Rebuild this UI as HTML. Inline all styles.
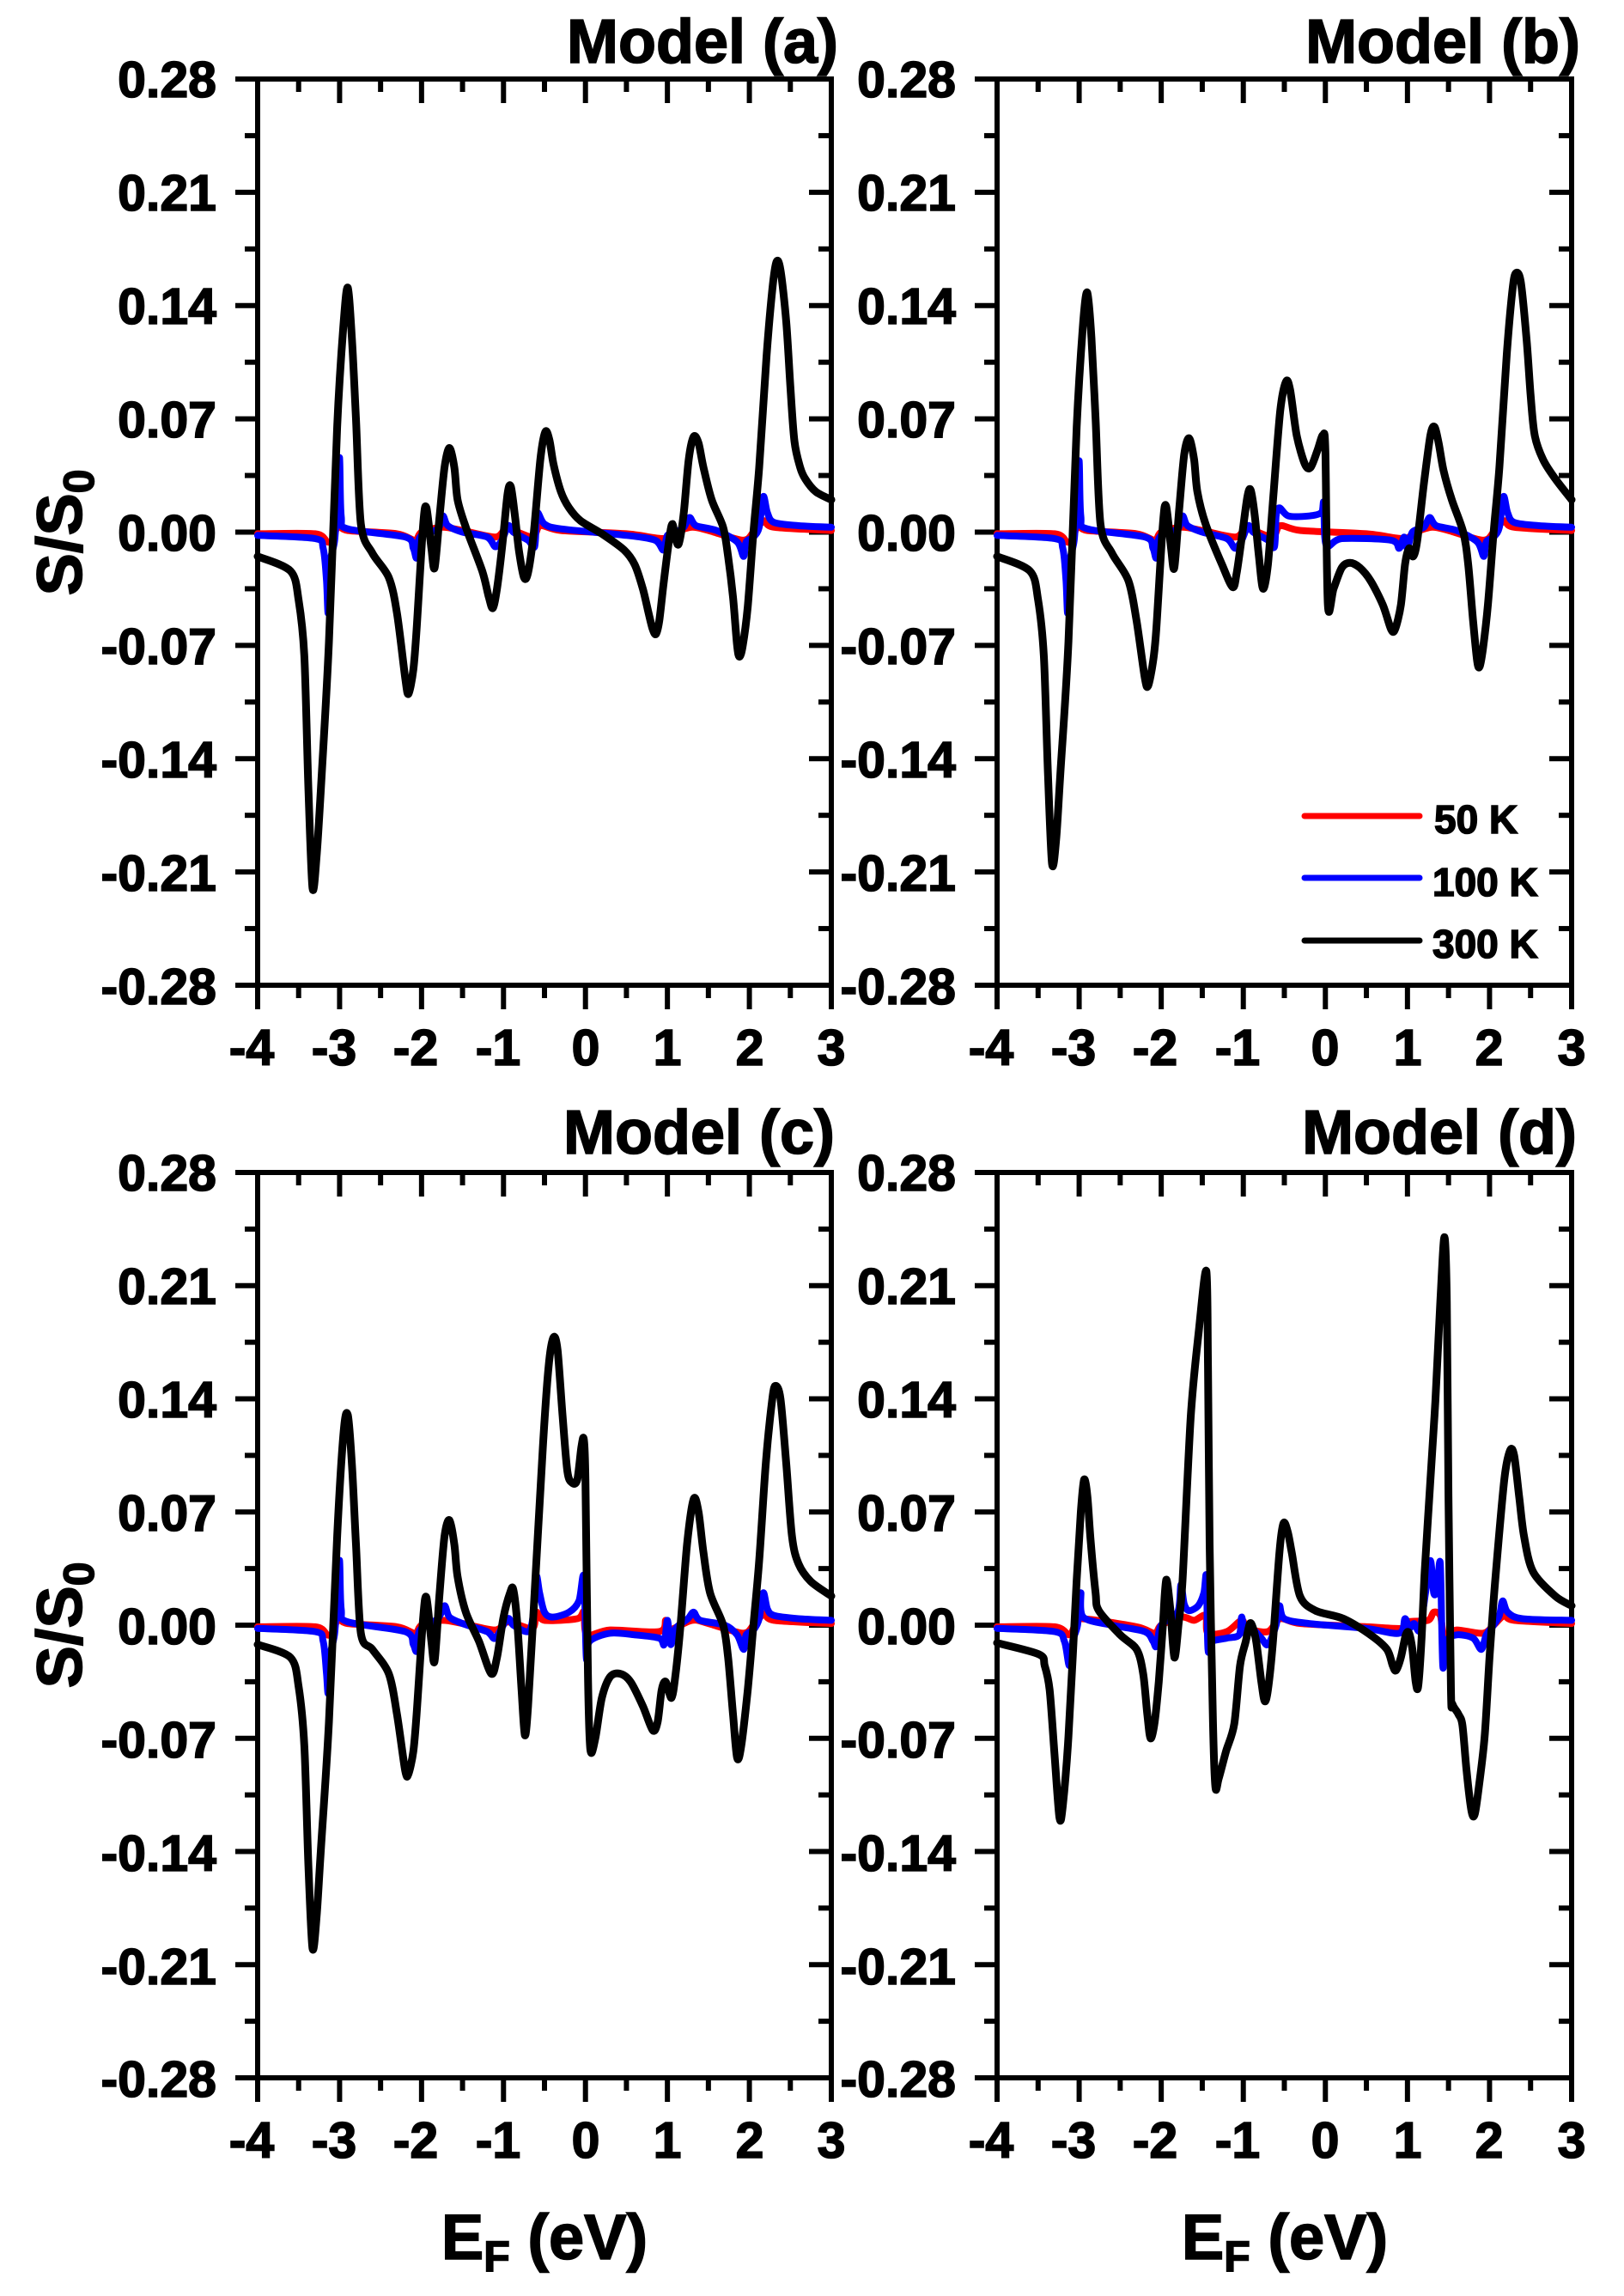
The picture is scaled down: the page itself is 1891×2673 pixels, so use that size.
<!DOCTYPE html>
<html><head><meta charset="utf-8"><style>
html,body{margin:0;padding:0;background:#fff;}
svg{display:block;}
text{font-family:"Liberation Sans",Arial,sans-serif;font-weight:bold;fill:#000;stroke:#000;stroke-width:1.6;}
</style></head><body>
<svg id="s" width="1891" height="2673" viewBox="0 0 1891 2673" xmlns="http://www.w3.org/2000/svg">
<rect width="1891" height="2673" fill="#fff"/>
<g id="axes" stroke="#000" stroke-width="6" fill="none"></g>
<g id="curves" fill="none" stroke-linejoin="round" stroke-linecap="round"></g>
<!-- titles -->
<text x="976" y="73" font-size="72" text-anchor="end">Model (a)</text>
<text x="1840" y="73" font-size="72" text-anchor="end">Model (b)</text>
<text x="972" y="1343" font-size="72" text-anchor="end">Model (c)</text>
<text x="1836" y="1343" font-size="72" text-anchor="end">Model (d)</text>
<!-- y tick labels -->
<g font-size="59" text-anchor="end">
<text x="252" y="113">0.28</text><text x="252" y="245">0.21</text><text x="252" y="377">0.14</text><text x="252" y="509">0.07</text><text x="252" y="641">0.00</text><text x="252" y="773">-0.07</text><text x="252" y="905">-0.14</text><text x="252" y="1037">-0.21</text><text x="252" y="1169">-0.28</text>
<text x="1113" y="113">0.28</text><text x="1113" y="245">0.21</text><text x="1113" y="377">0.14</text><text x="1113" y="509">0.07</text><text x="1113" y="641">0.00</text><text x="1113" y="773">-0.07</text><text x="1113" y="905">-0.14</text><text x="1113" y="1037">-0.21</text><text x="1113" y="1169">-0.28</text>
<text x="252" y="1386">0.28</text><text x="252" y="1518">0.21</text><text x="252" y="1650">0.14</text><text x="252" y="1782">0.07</text><text x="252" y="1914">0.00</text><text x="252" y="2046">-0.07</text><text x="252" y="2178">-0.14</text><text x="252" y="2310">-0.21</text><text x="252" y="2441">-0.28</text>
<text x="1113" y="1386">0.28</text><text x="1113" y="1518">0.21</text><text x="1113" y="1650">0.14</text><text x="1113" y="1782">0.07</text><text x="1113" y="1914">0.00</text><text x="1113" y="2046">-0.07</text><text x="1113" y="2178">-0.14</text><text x="1113" y="2310">-0.21</text><text x="1113" y="2441">-0.28</text>
</g>
<!-- x tick labels -->
<g font-size="59" text-anchor="middle">
<text x="293" y="1240">-4</text><text x="389" y="1240">-3</text><text x="484" y="1240">-2</text><text x="580" y="1240">-1</text><text x="682" y="1240">0</text><text x="777" y="1240">1</text><text x="873" y="1240">2</text><text x="968" y="1240">3</text>
<text x="1154" y="1240">-4</text><text x="1250" y="1240">-3</text><text x="1345" y="1240">-2</text><text x="1441" y="1240">-1</text><text x="1543" y="1240">0</text><text x="1639" y="1240">1</text><text x="1734" y="1240">2</text><text x="1830" y="1240">3</text>
<text x="293" y="2512">-4</text><text x="389" y="2512">-3</text><text x="484" y="2512">-2</text><text x="580" y="2512">-1</text><text x="682" y="2512">0</text><text x="777" y="2512">1</text><text x="873" y="2512">2</text><text x="968" y="2512">3</text>
<text x="1154" y="2512">-4</text><text x="1250" y="2512">-3</text><text x="1345" y="2512">-2</text><text x="1441" y="2512">-1</text><text x="1543" y="2512">0</text><text x="1639" y="2512">1</text><text x="1734" y="2512">2</text><text x="1830" y="2512">3</text>
</g>
<!-- axis labels -->
<text transform="translate(95,620) rotate(-90)" font-size="74" text-anchor="middle">S/S<tspan font-size="50" dy="14">0</tspan></text>
<text transform="translate(95,1892) rotate(-90)" font-size="74" text-anchor="middle">S/S<tspan font-size="50" dy="14">0</tspan></text>
<text x="634" y="2630" font-size="74" text-anchor="middle">E<tspan font-size="50" dy="14">F</tspan><tspan dy="-14"> (eV)</tspan></text>
<text x="1496" y="2630" font-size="74" text-anchor="middle">E<tspan font-size="50" dy="14">F</tspan><tspan dy="-14"> (eV)</tspan></text>
<!-- legend -->
<line x1="1519" y1="950" x2="1653" y2="950" stroke="#ff0000" stroke-width="7" stroke-linecap="round"/>
<line x1="1519" y1="1022" x2="1653" y2="1022" stroke="#0000ff" stroke-width="7" stroke-linecap="round"/>
<line x1="1519" y1="1095" x2="1653" y2="1095" stroke="#000" stroke-width="7" stroke-linecap="round"/>
<text x="1670" y="970" font-size="46">50 K</text>
<text x="1668" y="1043" font-size="46">100 K</text>
<text x="1668" y="1115" font-size="46">300 K</text>
</svg>
<script>
var NS="http://www.w3.org/2000/svg";
var panels=[
 {x0:300,x1:968,y0:92,y1:1147},
 {x0:1161,x1:1830,y0:92,y1:1147},
 {x0:300,x1:968,y0:1365,y1:2419},
 {x0:1161,x1:1830,y0:1365,y1:2419}];
var ax=document.getElementById('axes'),cv=document.getElementById('curves');
function ln(g,a,b,c,d){var l=document.createElementNS(NS,'line');l.setAttribute('x1',a);l.setAttribute('y1',b);l.setAttribute('x2',c);l.setAttribute('y2',d);g.appendChild(l);}
panels.forEach(function(p){
 var r=document.createElementNS(NS,'rect');r.setAttribute('x',p.x0);r.setAttribute('y',p.y0);r.setAttribute('width',p.x1-p.x0);r.setAttribute('height',p.y1-p.y0);ax.appendChild(r);
 var ux=(p.x1-p.x0)/7, uy=(p.y1-p.y0)/16;
 for(var i=0;i<=14;i++){var x=p.x0+i*ux/2,L=(i%2==0)?28:15;
  ln(ax,x,p.y0,x,p.y0+L);ln(ax,x,p.y1,x,p.y1+L);}
 for(var j=0;j<=16;j++){var y=p.y0+j*uy,L=(j%2==0)?26:15;
  ln(ax,p.x0,y,p.x0-L,y);ln(ax,p.x1,y,p.x1-L,y);}
});
function curve(pi,pts,col){
 var p=panels[pi],ux=(p.x1-p.x0)/7,uy=(p.y1-p.y0)/0.56,zy=(p.y0+p.y1)/2;
 var P=[];for(var k=0;k<pts.length;k+=2)P.push([p.x0+(pts[k]+4)*ux,zy-pts[k+1]*uy]);
 // Catmull-Rom smoothing
 var d='M'+P[0][0].toFixed(1)+' '+P[0][1].toFixed(1);
 for(var i=0;i<P.length-1;i++){var p0=P[Math.max(0,i-1)],p1=P[i],p2=P[i+1],p3=P[Math.min(P.length-1,i+2)];
  var t=0.15;
  var c1=[p1[0]+(p2[0]-p0[0])*t,p1[1]+(p2[1]-p0[1])*t],c2=[p2[0]-(p3[0]-p1[0])*t,p2[1]-(p3[1]-p1[1])*t];
  d+='C'+c1[0].toFixed(1)+' '+c1[1].toFixed(1)+' '+c2[0].toFixed(1)+' '+c2[1].toFixed(1)+' '+p2[0].toFixed(1)+' '+p2[1].toFixed(1);}
 var e=document.createElementNS(NS,'path');e.setAttribute('d',d);e.setAttribute('stroke',col);e.setAttribute('stroke-width',col=='#000'?9:8);cv.appendChild(e);
}
var A=[-4,-0.015,-3.6,-0.024,-3.5,-0.042,-3.43,-0.077,-3.38,-0.16,-3.33,-0.22,-3.28,-0.2,-3.23,-0.16,-3.13,-0.068,-3.03,0.065,-2.95,0.13,-2.90,0.151,-2.85,0.12,-2.80,0.07,-2.74,0.005,-2.6,-0.013,-2.4,-0.028,-2.3,-0.05,-2.2,-0.09,-2.16,-0.1,-2.1,-0.085,-2.06,-0.06,-1.98,0.005,-1.94,0.015,-1.88,-0.01,-1.84,-0.022,-1.78,0.01,-1.72,0.04,-1.66,0.052,-1.6,0.04,-1.56,0.02,-1.46,0.003,-1.26,-0.024,-1.18,-0.04,-1.13,-0.047,-1.08,-0.035,-1.01,-0.006,-0.95,0.024,-0.91,0.028,-0.86,0.01,-0.81,-0.012,-0.75,-0.028,-0.7,-0.025,-0.63,0.0,-0.55,0.045,-0.49,0.062,-0.44,0.057,-0.39,0.042,-0.3,0.025,-0.2,0.015,-0.06,0.007,0.2,-0.001,0.47,-0.011,0.6,-0.02,0.7,-0.035,0.77,-0.05,0.82,-0.06,0.86,-0.063,0.9,-0.055,0.95,-0.033,1.02,-0.005,1.06,0.005,1.1,-0.004,1.14,-0.007,1.2,0.012,1.26,0.045,1.32,0.059,1.38,0.055,1.44,0.04,1.54,0.02,1.68,0.003,1.74,-0.015,1.8,-0.04,1.85,-0.07,1.88,-0.077,1.92,-0.07,1.98,-0.046,2.05,0.0,2.12,0.04,2.21,0.109,2.28,0.15,2.33,0.167,2.38,0.162,2.45,0.13,2.5,0.09,2.55,0.056,2.62,0.04,2.68,0.033,2.81,0.025,3,0.02];
var Bk=[-4,-0.015,-3.6,-0.024,-3.5,-0.042,-3.43,-0.077,-3.38,-0.15,-3.33,-0.205,-3.28,-0.19,-3.23,-0.15,-3.13,-0.068,-3.03,0.065,-2.95,0.13,-2.90,0.148,-2.85,0.12,-2.80,0.07,-2.74,0.005,-2.6,-0.013,-2.4,-0.03,-2.3,-0.055,-2.2,-0.09,-2.16,-0.095,-2.1,-0.08,-2.06,-0.06,-1.98,0.005,-1.94,0.016,-1.88,-0.01,-1.84,-0.022,-1.78,0.015,-1.72,0.048,-1.66,0.058,-1.6,0.045,-1.56,0.025,-1.46,0.005,-1.26,-0.02,-1.13,-0.034,-1.08,-0.025,-1.01,0.0,-0.95,0.022,-0.91,0.026,-0.86,0.01,-0.81,-0.015,-0.76,-0.035,-0.7,-0.02,-0.63,0.025,-0.55,0.075,-0.48,0.093,-0.43,0.088,-0.35,0.06,-0.25,0.042,-0.18,0.04,-0.1,0.05,-0.03,0.06,0.0,0.05,0.03,-0.045,0.1,-0.035,0.2,-0.022,0.3,-0.019,0.42,-0.022,0.55,-0.03,0.7,-0.045,0.8,-0.06,0.85,-0.06,0.92,-0.045,0.97,-0.02,1.02,-0.01,1.07,-0.015,1.12,-0.005,1.2,0.03,1.28,0.06,1.33,0.065,1.38,0.055,1.44,0.038,1.54,0.02,1.68,0.0,1.74,-0.02,1.8,-0.055,1.85,-0.08,1.88,-0.083,1.92,-0.072,1.98,-0.045,2.05,0.0,2.12,0.04,2.21,0.11,2.28,0.15,2.32,0.16,2.38,0.155,2.45,0.12,2.5,0.085,2.55,0.06,2.65,0.045,2.8,0.033,3,0.02];
var Ck=[-4,-0.012,-3.6,-0.02,-3.5,-0.038,-3.43,-0.075,-3.38,-0.15,-3.33,-0.2,-3.28,-0.18,-3.23,-0.14,-3.13,-0.06,-3.03,0.055,-2.95,0.12,-2.90,0.13,-2.85,0.1,-2.80,0.05,-2.74,-0.005,-2.6,-0.015,-2.4,-0.03,-2.3,-0.055,-2.2,-0.09,-2.16,-0.092,-2.1,-0.078,-2.06,-0.055,-1.98,0.005,-1.94,0.017,-1.88,-0.01,-1.84,-0.022,-1.78,0.02,-1.72,0.055,-1.66,0.065,-1.6,0.05,-1.56,0.03,-1.46,0.008,-1.3,-0.01,-1.15,-0.03,-1.08,-0.02,-1.0,0.005,-0.92,0.02,-0.88,0.022,-0.83,0.0,-0.78,-0.04,-0.74,-0.068,-0.7,-0.05,-0.62,0.02,-0.52,0.11,-0.45,0.16,-0.39,0.178,-0.34,0.17,-0.28,0.13,-0.22,0.095,-0.16,0.088,-0.1,0.09,-0.05,0.11,-0.02,0.115,0.0,0.09,0.03,-0.03,0.06,-0.077,0.12,-0.07,0.2,-0.045,0.3,-0.032,0.42,-0.03,0.55,-0.035,0.7,-0.05,0.82,-0.065,0.88,-0.06,0.93,-0.04,0.98,-0.035,1.05,-0.045,1.1,-0.03,1.16,0.0,1.24,0.05,1.32,0.078,1.38,0.07,1.44,0.045,1.52,0.02,1.68,0.0,1.74,-0.02,1.8,-0.055,1.85,-0.082,1.9,-0.075,1.98,-0.04,2.05,0.0,2.12,0.04,2.2,0.1,2.28,0.14,2.32,0.148,2.38,0.14,2.45,0.1,2.52,0.055,2.6,0.038,2.75,0.027,3,0.018];
var Dk=[-4,-0.011,-3.49,-0.018,-3.42,-0.025,-3.36,-0.04,-3.3,-0.08,-3.24,-0.119,-3.2,-0.112,-3.13,-0.069,-3.03,0.028,-2.98,0.07,-2.94,0.09,-2.9,0.08,-2.86,0.052,-2.8,0.02,-2.76,0.009,-2.5,-0.006,-2.3,-0.015,-2.22,-0.03,-2.17,-0.055,-2.13,-0.07,-2.08,-0.06,-2.03,-0.035,-1.98,0.0,-1.94,0.028,-1.89,0.01,-1.84,-0.02,-1.79,0.0,-1.74,0.028,-1.64,0.129,-1.54,0.183,-1.45,0.219,-1.43,0.16,-1.41,0.05,-1.37,-0.06,-1.34,-0.1,-1.3,-0.095,-1.21,-0.078,-1.11,-0.061,-1.04,-0.025,-0.97,-0.01,-0.92,0.001,-0.88,-0.002,-0.84,-0.011,-0.78,-0.035,-0.74,-0.047,-0.7,-0.04,-0.64,-0.011,-0.56,0.045,-0.51,0.063,-0.46,0.058,-0.41,0.045,-0.31,0.018,-0.12,0.009,0.22,0.004,0.55,-0.006,0.75,-0.015,0.82,-0.025,0.86,-0.028,0.92,-0.02,0.98,-0.006,1.02,-0.005,1.06,-0.015,1.1,-0.035,1.13,-0.038,1.17,-0.01,1.21,0.033,1.28,0.09,1.34,0.139,1.4,0.2,1.45,0.24,1.48,0.2,1.5,0.08,1.53,-0.04,1.55,-0.049,1.62,-0.055,1.67,-0.062,1.72,-0.09,1.78,-0.115,1.82,-0.117,1.87,-0.1,1.94,-0.069,2.0,-0.02,2.07,0.028,2.18,0.09,2.25,0.108,2.3,0.105,2.36,0.08,2.42,0.055,2.53,0.033,2.8,0.018,3,0.012];
var BlA=[-4,-0.002,-3.3,-0.004,-3.2,-0.01,-3.16,-0.03,-3.14,-0.05,-3.12,-0.02,-3.06,-0.005,-3.03,0.02,-3.0,0.046,-2.98,0.01,-2.9,0.002,-2.2,-0.003,-2.1,-0.01,-2.06,-0.016,-2.02,-0.003,-1.8,0.002,-1.74,0.01,-1.68,0.004,-1.5,0.0,-1.2,-0.003,-1.1,-0.009,-1.02,-0.005,-0.94,0.004,-0.88,0.0,-0.7,-0.005,-0.62,-0.009,-0.6,0.008,-0.58,0.012,-0.5,0.005,-0.3,0.002,0.5,-0.002,0.85,-0.005,0.95,-0.011,1.0,-0.002,1.1,0.0,1.2,0.003,1.27,0.009,1.35,0.004,1.6,0.001,1.85,-0.006,1.93,-0.015,1.96,-0.006,2.05,-0.003,2.12,0.003,2.17,0.022,2.22,0.012,2.3,0.006,2.6,0.004,3,0.003];
var BlB=[-4,-0.002,-3.3,-0.004,-3.2,-0.01,-3.16,-0.03,-3.14,-0.05,-3.12,-0.02,-3.06,-0.005,-3.03,0.02,-3.0,0.044,-2.98,0.01,-2.9,0.002,-2.2,-0.003,-2.1,-0.01,-2.06,-0.016,-2.02,-0.003,-1.8,0.002,-1.74,0.01,-1.68,0.004,-1.5,0.0,-1.2,-0.004,-1.1,-0.01,-1.02,-0.005,-0.94,0.004,-0.88,0.0,-0.7,-0.005,-0.62,-0.009,-0.6,0.01,-0.56,0.015,-0.45,0.01,-0.2,0.01,-0.05,0.012,-0.02,0.018,0.01,-0.008,0.2,-0.004,0.8,-0.005,0.9,-0.01,0.96,-0.003,1.0,-0.01,1.06,0.0,1.2,0.003,1.27,0.009,1.35,0.004,1.6,0.001,1.85,-0.006,1.93,-0.015,1.96,-0.006,2.05,-0.003,2.12,0.003,2.17,0.022,2.22,0.012,2.3,0.006,2.6,0.004,3,0.003];
var BlC=[-4,-0.002,-3.3,-0.004,-3.2,-0.01,-3.16,-0.03,-3.14,-0.042,-3.12,-0.02,-3.06,-0.005,-3.03,0.02,-3.0,0.04,-2.98,0.01,-2.9,0.002,-2.2,-0.004,-2.1,-0.012,-2.06,-0.016,-2.02,-0.003,-1.8,0.004,-1.72,0.012,-1.66,0.005,-1.5,0.001,-1.2,-0.004,-1.1,-0.008,-0.95,0.004,-0.88,0.0,-0.7,-0.004,-0.64,0.005,-0.6,0.03,-0.56,0.02,-0.5,0.008,-0.4,0.005,-0.2,0.008,-0.08,0.015,-0.02,0.03,0.01,-0.02,0.05,-0.01,0.3,-0.005,0.6,-0.006,0.9,-0.008,0.96,-0.012,1.0,0.003,1.04,-0.012,1.1,-0.002,1.25,0.004,1.32,0.008,1.4,0.003,1.7,0.0,1.85,-0.006,1.93,-0.015,1.96,-0.006,2.05,-0.003,2.12,0.004,2.17,0.02,2.22,0.01,2.3,0.006,2.6,0.004,3,0.003];
var BlD=[-4,-0.002,-3.3,-0.004,-3.18,-0.01,-3.12,-0.025,-3.08,-0.01,-3.02,0.0,-2.98,0.02,-2.95,0.005,-2.6,0.0,-2.2,-0.004,-2.1,-0.01,-2.06,-0.013,-2.0,0.0,-1.8,0.008,-1.76,0.025,-1.72,0.013,-1.66,0.009,-1.55,0.012,-1.48,0.02,-1.45,0.03,-1.43,-0.015,-1.38,-0.01,-1.2,-0.008,-1.05,-0.006,-1.02,0.005,-0.98,-0.005,-0.9,-0.002,-0.78,-0.008,-0.7,-0.012,-0.6,0.0,-0.56,0.012,-0.5,0.004,-0.2,0.001,0.5,-0.002,0.9,-0.005,0.97,0.004,1.02,-0.002,1.08,0.001,1.15,-0.003,1.22,0.02,1.28,0.04,1.32,0.02,1.36,0.022,1.4,0.038,1.43,-0.025,1.47,-0.01,1.6,-0.006,1.8,-0.008,1.9,-0.015,1.96,-0.006,2.05,0.0,2.12,0.006,2.16,0.015,2.22,0.008,2.4,0.004,3,0.003];
var RdA=[-4,-0.001,-3.3,-0.001,-3.15,-0.006,-3.08,-0.005,-3.02,0.004,-2.9,0.001,-2.3,-0.001,-2.08,-0.005,-2.0,0.0,-1.75,0.003,-1.5,0.001,-1.1,-0.003,-0.95,0.002,-0.65,-0.003,-0.55,0.004,-0.3,0.001,0.5,-0.001,0.95,-0.004,1.1,0.0,1.3,0.003,1.5,0.001,1.92,-0.005,2.05,0.0,2.18,0.007,2.3,0.003,3,0.001];
var RdC=[-4,-0.001,-3.3,-0.001,-3.15,-0.006,-3.08,-0.005,-3.02,0.004,-2.9,0.001,-2.3,-0.001,-2.08,-0.005,-2.0,0.0,-1.75,0.003,-1.5,0.001,-1.1,-0.003,-0.95,0.002,-0.65,-0.002,-0.6,0.008,-0.5,0.003,-0.1,0.004,-0.02,0.008,0.02,-0.006,0.3,-0.003,0.9,-0.004,0.98,0.003,1.02,-0.003,1.3,0.003,1.5,0.001,1.92,-0.005,2.05,0.0,2.18,0.007,2.3,0.003,3,0.001];
var RdD=[-4,-0.001,-3.3,-0.001,-3.12,-0.006,-3.05,0.0,-2.97,0.004,-2.3,-0.001,-2.08,-0.005,-2.0,0.0,-1.75,0.005,-1.6,0.003,-1.46,0.006,-1.43,-0.005,-1.2,-0.004,-1.02,0.003,-0.95,-0.002,-0.7,-0.004,-0.55,0.004,-0.3,0.001,0.5,-0.001,0.95,-0.002,1.0,0.002,1.25,0.003,1.32,0.008,1.4,0.006,1.45,-0.006,1.6,-0.003,1.92,-0.005,2.05,0.0,2.18,0.006,2.3,0.003,3,0.001];
curve(0,RdA,'#ff0000');curve(0,BlA,'#0000ff');curve(0,A,'#000');
curve(1,RdA,'#ff0000');curve(1,BlB,'#0000ff');curve(1,Bk,'#000');
curve(2,RdC,'#ff0000');curve(2,BlC,'#0000ff');curve(2,Ck,'#000');
curve(3,RdD,'#ff0000');curve(3,BlD,'#0000ff');curve(3,Dk,'#000');
</script>
</body></html>
